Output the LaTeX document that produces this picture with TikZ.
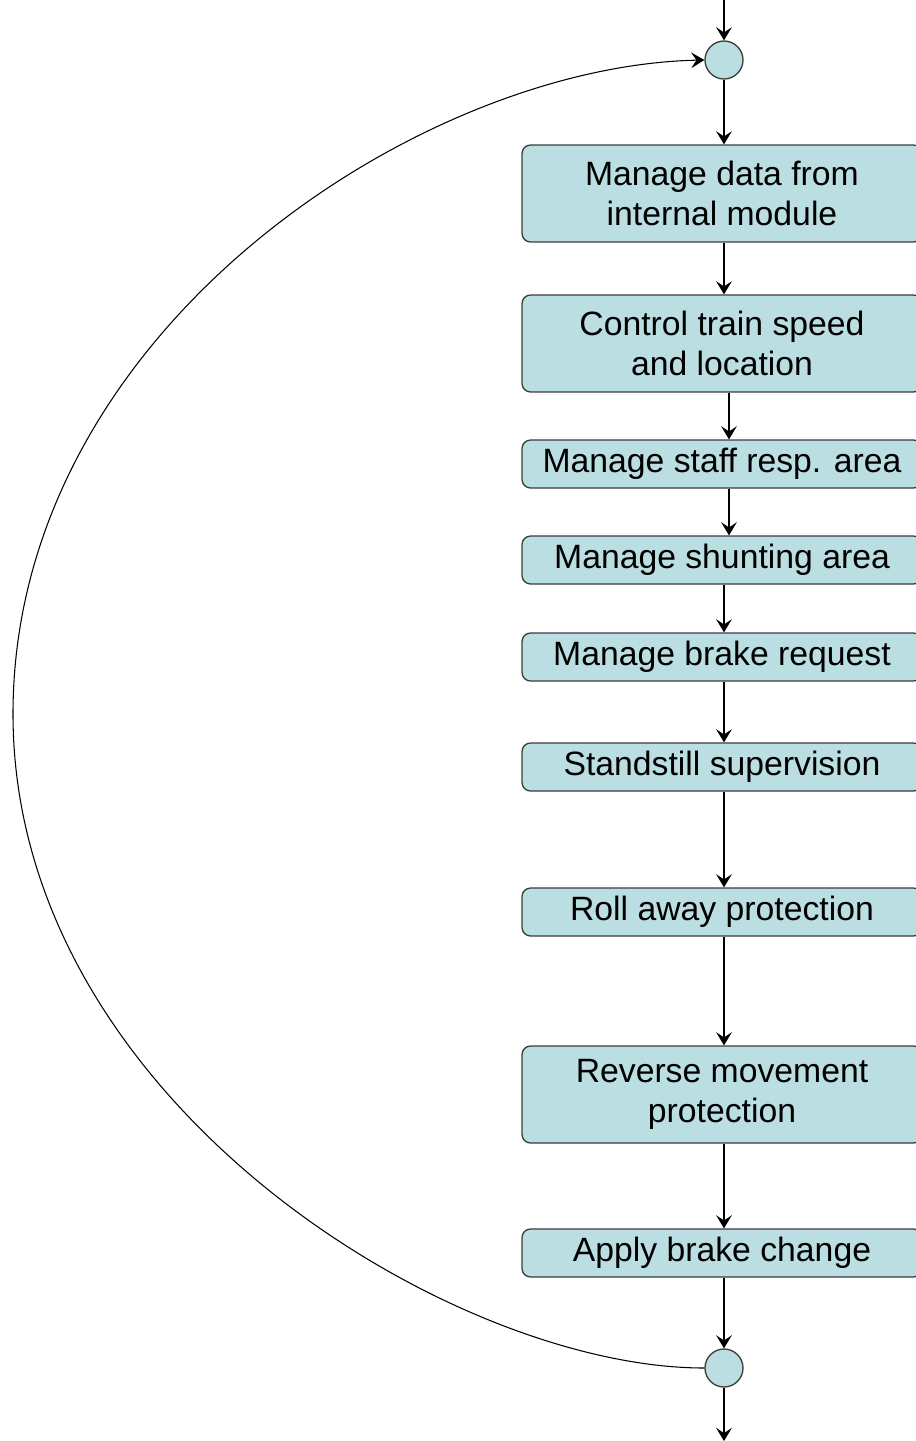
\documentclass[tikz,border=0pt]{standalone}
\usepackage{fontspec}
\setmainfont{Liberation Sans}
\usetikzlibrary{arrows.meta}
\definecolor{boxfill}{RGB}{186,222,226}
\definecolor{boxline}{RGB}{60,60,60}
\begin{document}
\begin{tikzpicture}[x=0.02cm,y=-0.02cm,
  proc/.style={draw=boxline,fill=boxfill,line width=0.75pt,rounded corners=0.17cm,
    minimum width=8cm,align=center,inner sep=0pt,
    font=\fontsize{19.2pt}{22.7pt}\selectfont},
  onel/.style={proc,minimum height=0.96cm},
  twol/.style={proc,minimum height=1.94cm},
  junc/.style={circle,draw=boxline,fill=boxfill,line width=0.75pt,minimum size=0.76cm,inner sep=0pt},
  flow/.style={draw=black,line width=0.85pt,-{Stealth[length=7.5pt,width=9pt,inset=3pt]}},
  loop/.style={draw=black,line width=0.6pt,-{Stealth[length=7.5pt,width=9pt,inset=3pt]}}]
\useasboundingbox (0,0) rectangle (916,1441);
\clip (0,0) rectangle (916,1441);
\coordinate (in) at (724,0);
\coordinate (out) at (724,1441);
\node[junc] (top) at (724,60) {};
\node[twol] (b1) at (722,193.5) {Manage data from\\internal module};
\node[twol] (b2) at (722,343.5) {Control train speed\\and location};
\node[onel] (b3) at (722,464) {Manage staff resp. area};
\node[onel] (b4) at (722,560) {Manage shunting area};
\node[onel] (b5) at (722,657) {Manage brake request};
\node[onel] (b6) at (722,767) {Standstill supervision};
\node[onel] (b7) at (722,912) {Roll away protection};
\node[twol] (b8) at (722,1094.5) {Reverse movement\\protection};
\node[onel] (b9) at (722,1253) {Apply brake change};
\node[junc] (bot) at (724,1368) {};
\coordinate (cl) at (729,0);
\coordinate (cm) at (724,0);
\draw[flow] (in) -- (top.north);
\draw[flow] (top.south) -- (b1.north -| cm);
\draw[flow] (b1.south -| cm) -- (b2.north -| cm);
\draw[flow] (b2.south -| cl) -- (b3.north -| cl);
\draw[flow] (b3.south -| cl) -- (b4.north -| cl);
\draw[flow] (b4.south -| cm) -- (b5.north -| cm);
\draw[flow] (b5.south -| cm) -- (b6.north -| cm);
\draw[flow] (b6.south -| cm) -- (b7.north -| cm);
\draw[flow] (b7.south -| cm) -- (b8.north -| cm);
\draw[flow] (b8.south -| cm) -- (b9.north -| cm);
\draw[flow] (b9.south -| cm) -- (bot.north);
\draw[flow] (bot.south) -- (out);
\draw[loop] (bot.west) .. controls (450,1368) and (13,1100) .. (13,714)
  .. controls (13,330) and (420,66) .. (top.west);
\end{tikzpicture}
\end{document}
